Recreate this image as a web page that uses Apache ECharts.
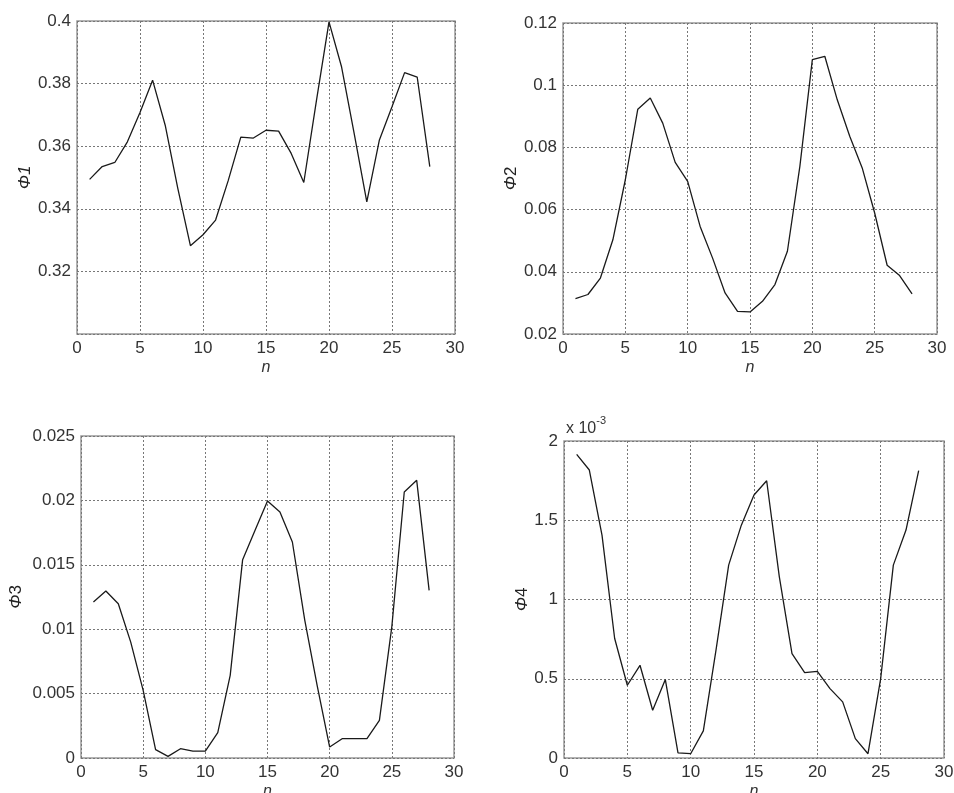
<!DOCTYPE html>
<html>
<head>
<meta charset="utf-8">
<script src="https://cdn.jsdelivr.net/npm/echarts@6/dist/echarts.min.js"></script>
<style>
  html, body { margin: 0; padding: 0; background: #fff; }
  #main { width: 954px; height: 793px; }
</style>
</head>
<body>
<div id="main"></div>
<script>
// sample index n = 1..28
var nValues = [1,2,3,4,5,6,7,8,9,10,11,12,13,14,15,16,17,18,19,20,21,22,23,24,25,26,27,28];

var phi1 = [0.3494,0.3535,0.3548,0.3614,0.3708,0.3811,0.3667,0.3465,0.3282,0.3317,0.3364,0.3490,0.3629,0.3626,0.3651,0.3648,0.3577,0.3484,0.3745,0.3997,0.3853,0.3640,0.3422,0.3620,0.3726,0.3835,0.3821,0.3535];
var phi2 = [0.0314,0.0327,0.0380,0.0503,0.0696,0.0923,0.0959,0.0878,0.0752,0.0691,0.0546,0.0444,0.0332,0.0273,0.0271,0.0305,0.0359,0.0466,0.0739,0.1082,0.1093,0.0953,0.0836,0.0734,0.0589,0.0421,0.0388,0.0329];
var phi3 = [0.01211,0.01297,0.01198,0.0090,0.00525,0.00065,0.00013,0.00072,0.00054,0.00054,0.00197,0.00642,0.0154,0.01768,0.01995,0.0191,0.01677,0.01069,0.0056,0.00085,0.0015,0.0015,0.0015,0.00292,0.0102,0.02065,0.02156,0.01302];
// phi4 in units of 10^-3
var phi4 = [1.916,1.817,1.406,0.754,0.459,0.585,0.301,0.495,0.032,0.027,0.171,0.680,1.217,1.469,1.659,1.749,1.143,0.659,0.539,0.547,0.438,0.354,0.122,0.027,0.501,1.217,1.438,1.813];

var xTicks = { min: 0, max: 30, interval: 5 };

var chartDom = document.getElementById('main');
var myChart = echarts.init(chartDom);

var font = 'Liberation Sans, Arial, sans-serif';
var panels = [
  { data: phi1, name: 'Φ', idx: '1', idxItalic: true, min: 0.3, max: 0.4, interval: 0.02, hideMin: true, nameGap: 31,
    grid: { left: 77, top: 21, width: 378, height: 313 } },
  { data: phi2, name: 'Φ', idx: '2', min: 0.02, max: 0.12, interval: 0.02, nameGap: 34,
    grid: { left: 563, top: 23, width: 374, height: 311 } },
  { data: phi3, name: 'Φ', idx: '3', min: 0, max: 0.025, interval: 0.005, nameGap: 56,
    grid: { left: 81, top: 436, width: 373, height: 322 } },
  { data: phi4, name: 'Φ', idx: '4', min: 0, max: 2, interval: 0.5, nameGap: 31,
    grid: { left: 564, top: 441, width: 380, height: 317 } }
];

function pairs(arr) {
  return arr.map(function (v, i) { return [nValues[i], v]; });
}

var option = {
  backgroundColor: '#fff',
  animation: false,
  textStyle: { fontFamily: font },
  grid: [],
  xAxis: [],
  yAxis: [],
  series: [],
  graphic: [{
    type: 'text',
    left: 566,
    top: 415,
    style: {
      text: '{a|x 10}{b|-3}',
      rich: {
        a: { fontFamily: font, fontSize: 16, fill: '#333', padding: [6, 0, 0, 0] },
        b: { fontFamily: font, fontSize: 11, fill: '#333', verticalAlign: 'top' }
      }
    }
  }]
};

panels.forEach(function (p, i) {
  option.grid.push({
    left: p.grid.left, top: p.grid.top, width: p.grid.width, height: p.grid.height,
    containLabel: false, outerBoundsMode: 'none',
    show: true, borderColor: '#999', borderWidth: 1.5, backgroundColor: '#fff'
  });
  option.xAxis.push({
    gridIndex: i,
    type: 'value',
    min: xTicks.min, max: xTicks.max, interval: xTicks.interval,
    name: 'n',
    nameLocation: 'middle',
    nameGap: 26,
    nameTextStyle: { fontFamily: font, fontSize: 16, fontStyle: 'italic', color: '#333' },
    axisLine: { show: false },
    axisTick: { show: false },
    axisLabel: { fontFamily: font, fontSize: 17, color: '#333', margin: 6 },
    splitLine: { show: true, lineStyle: { color: '#777', type: [2, 2], width: 1 } }
  });
  option.yAxis.push({
    gridIndex: i,
    type: 'value',
    min: p.min, max: p.max, interval: p.interval,
    name: '{n|' + p.name + '}{' + (p.idxItalic ? 'i' : 'd') + '|' + p.idx + '}',
    nameLocation: 'middle',
    nameRotate: 90,
    nameGap: p.nameGap,
    nameTextStyle: {
      rich: {
        n: { fontFamily: font, fontSize: 17, fontStyle: 'italic', color: '#222' },
        i: { fontFamily: font, fontSize: 17, fontStyle: 'italic', color: '#222' },
        d: { fontFamily: font, fontSize: 17, color: '#222' }
      }
    },
    axisLine: { show: false },
    axisTick: { show: false },
    axisLabel: { fontFamily: font, fontSize: 17, color: '#333', margin: 6, showMinLabel: !p.hideMin },
    splitLine: { show: true, lineStyle: { color: '#777', type: [2, 2], width: 1 } }
  });
  option.series.push({
    type: 'line',
    xAxisIndex: i,
    yAxisIndex: i,
    data: pairs(p.data),
    showSymbol: false,
    symbol: 'none',
    lineStyle: { color: '#1a1a1a', width: 1.3 },
    z: 3
  });
});

option && myChart.setOption(option);
</script>
</body>
</html>
